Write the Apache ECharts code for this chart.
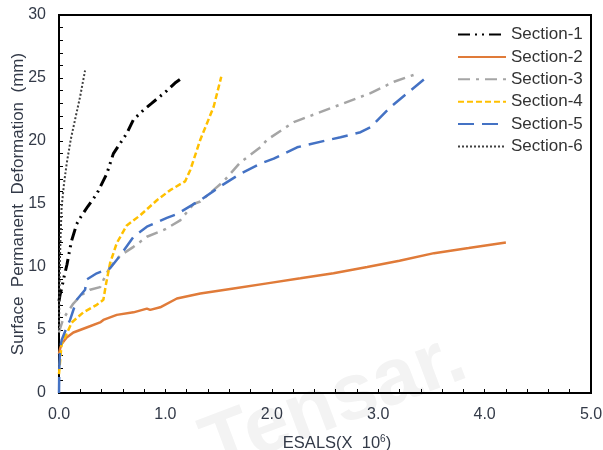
<!DOCTYPE html>
<html>
<head>
<meta charset="utf-8">
<script src="https://cdn.jsdelivr.net/npm/echarts@6/dist/echarts.min.js"></script>
<style>html,body{margin:0;padding:0;background:#fff}#c{width:603px;height:450px}</style>
</head>
<body>
<div id="c"></div>
<script>
var seriesNames = ['Section-1','Section-2','Section-3','Section-4','Section-5','Section-6'];
var xTicks = [0,1,2,3,4,5];
var yTicks = [0,5,10,15,20,25,30];

var section1 = [[0,7.3],[0.01,7.8],[0.025,8.3],[0.047,9.2],[0.075,10.2],[0.104,11.5],[0.119,12.1],[0.166,13.4],[0.207,14.0],[0.27,14.8],[0.355,15.8],[0.449,17.4],[0.511,19.0],[0.637,20.6],[0.70,21.7],[0.80,22.5],[0.873,23.0],[1.014,24.0],[1.09,24.6],[1.155,25.0]];
var section2 = [[0,3.1],[0.01,3.5],[0.025,3.9],[0.072,4.4],[0.135,4.8],[0.26,5.2],[0.386,5.6],[0.417,5.8],[0.543,6.2],[0.70,6.4],[0.826,6.7],[0.857,6.6],[0.951,6.8],[1.108,7.5],[1.328,7.9],[1.641,8.3],[1.956,8.7],[2.269,9.1],[2.58,9.5],[2.897,10.0],[3.2,10.5],[3.525,11.1],[3.85,11.5],[4.2,11.95]];
var section3 = [[0,4.8],[0.01,5.1],[0.04,5.9],[0.135,7.1],[0.214,7.8],[0.292,8.2],[0.386,8.4],[0.43,9.2],[0.48,10.0],[0.574,10.9],[0.70,11.6],[0.826,12.4],[1.0,13.0],[1.139,13.7],[1.265,15.0],[1.328,15.2],[1.547,16.8],[1.704,18.3],[1.893,19.5],[1.956,20.1],[2.206,21.5],[2.269,21.7],[2.583,22.7],[2.803,23.4],[2.928,23.8],[3.148,24.7],[3.352,25.3]];
var section4 = [[0,1.5],[0.003,1.8],[0.015,3.0],[0.025,3.9],[0.072,4.7],[0.12,5.6],[0.229,6.4],[0.355,7.0],[0.417,7.4],[0.443,8.7],[0.48,10.3],[0.543,11.9],[0.637,13.3],[0.763,14.1],[0.92,15.3],[1.045,16.1],[1.186,16.8],[1.234,17.7],[1.328,20.1],[1.453,22.7],[1.525,25.1]];
var section5 = [[0,0],[0.003,2.0],[0.01,3.5],[0.025,4.2],[0.072,5.2],[0.104,5.8],[0.167,7.4],[0.245,8.2],[0.26,9.0],[0.355,9.5],[0.48,9.9],[0.574,10.9],[0.70,12.4],[0.826,13.2],[1.014,13.9],[1.108,14.2],[1.328,15.3],[1.516,16.4],[1.704,17.4],[1.893,18.2],[2.018,18.6],[2.238,19.5],[2.332,19.7],[2.646,20.3],[2.834,20.7],[2.928,21.1],[3.117,22.7],[3.446,25.0]];
var section6 = [[0,5],[0.005,9],[0.01,11],[0.016,12.7],[0.025,14.8],[0.047,16.6],[0.072,18.2],[0.11,20.1],[0.151,21.7],[0.198,23.5],[0.245,25.6]];

var allData = [section1, section2, section3, section4, section5, section6];
var colors = ['#000000','#E07B39','#A5A5A5','#FFC000','#4472C4','#404040'];
var dashes = [[12,5,2,5,2,5],'solid',[12,6,3,6],[6,3],[16,8],[2,2]];
var widths = [3,2.5,2.5,2.5,2.5,2];

var chart = echarts.init(document.getElementById('c'));
var series = seriesNames.map(function(n,i){
  return {
    name: n, type: 'line', data: allData[i], showSymbol: false, symbol: 'none',
    smooth: false, color: colors[i],
    lineStyle: {color: colors[i], width: widths[i], type: dashes[i]}
  };
});
var textCol = '#333a48';
chart.setOption({
  animation: false,
  backgroundColor: '#fff',
  grid: {left: 59, right: 12, top: 15, bottom: 57, containLabel: false, outerBoundsMode: 'none', show: true, borderColor: '#000', borderWidth: 2, backgroundColor: 'transparent'},
  graphic: [{
    type: 'text', left: 192, top: 318, rotation: 0.36, z: -10,
    style: {text: 'Tensar.', fontSize: 80, fontWeight: 'bold', fontFamily: 'Liberation Sans', fill: '#f3f3f3'}
  }],
  legend: {
    orient: 'vertical', left: 452, top: 21, itemWidth: 48, itemHeight: 14, itemGap: 5.4,
    itemStyle: {opacity: 0},
    textStyle: {fontFamily: 'Liberation Sans', fontSize: 17, color: '#333'},
    data: seriesNames
  },
  xAxis: {
    type: 'value', min: xTicks[0], max: xTicks[xTicks.length-1], interval: 1,
    name: '{a|ESALS(X  10}{s|6}{a|)}', nameLocation: 'middle', nameGap: 41,
    nameTextStyle: {padding: [0,0,0,24], rich: {
      a: {fontFamily: 'Liberation Sans', fontSize: 16.5, color: textCol},
      s: {fontFamily: 'Liberation Sans', fontSize: 10, color: textCol, verticalAlign: 'top', padding: [0,0,8,0]}
    }},
    axisLine: {lineStyle: {color: '#000', width: 2}},
    axisTick: {inside: true, length: 4, lineStyle: {color: '#000', width: 1}},
    minorTick: {show: true, splitNumber: 5, length: 4, lineStyle: {color: '#000', width: 1}},
    splitLine: {show: false},
    axisLabel: {fontFamily: 'Liberation Sans', fontSize: 16, color: textCol, margin: 14, formatter: function(v){return v.toFixed(1);}}
  },
  yAxis: {
    type: 'value', min: yTicks[0], max: yTicks[yTicks.length-1], interval: 5,
    name: 'Surface  Permanent  Deformation  (mm)', nameLocation: 'middle', nameGap: 32, nameMoveOverlap: false,
    nameTextStyle: {fontFamily: 'Liberation Sans', fontSize: 17, color: textCol},
    axisLine: {lineStyle: {color: '#000', width: 2}},
    axisTick: {inside: true, length: 4, lineStyle: {color: '#000', width: 1}},
    minorTick: {show: true, splitNumber: 5, length: 4, lineStyle: {color: '#000', width: 1}},
    splitLine: {show: false},
    axisLabel: {fontFamily: 'Liberation Sans', fontSize: 16, color: textCol, margin: 13}
  },
  series: series
});
</script>
</body>
</html>
